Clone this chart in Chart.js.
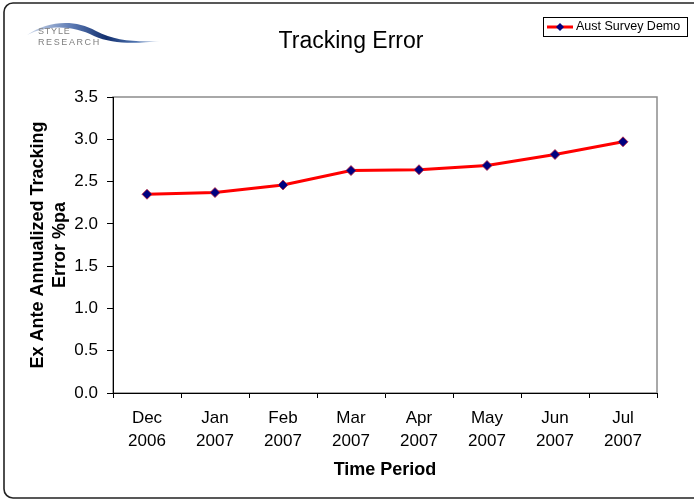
<!DOCTYPE html>
<html>
<head>
<meta charset="utf-8">
<script src="https://cdn.jsdelivr.net/npm/chart.js"></script>
<style>
  html, body { margin: 0; padding: 0; background: #ffffff; }
  #wrap { width: 694px; height: 499px; position: relative; }
</style>
</head>
<body>
<div id="wrap"><canvas id="chart" width="694" height="499"></canvas></div>
<script>
// Chart data
const months = ['Dec', 'Jan', 'Feb', 'Mar', 'Apr', 'May', 'Jun', 'Jul'];
const years = ['2006', '2007', '2007', '2007', '2007', '2007', '2007', '2007'];
const trackingError = [2.35, 2.37, 2.46, 2.63, 2.64, 2.69, 2.82, 2.97];
const seriesName = 'Aust Survey Demo';
const chartTitle = 'Tracking Error';
const yTitle = ['Ex Ante Annualized Tracking', 'Error %pa'];
const xTitle = 'Time Period';

const fontFamily = '"Liberation Sans", Arial, sans-serif';
const labels = months.map((m, i) => [m, years[i]]);

// Draws the frame, logo, title and legend around the plot
const decorations = {
    id: 'decorations',
    beforeDraw(chart) {
        const ctx = chart.ctx;
        const area = chart.chartArea;
        ctx.save();
        ctx.fillStyle = '#ffffff';
        ctx.fillRect(0, 0, chart.width, chart.height);
        // grey plot-area border (left/bottom get covered by axes)
        ctx.strokeStyle = '#8c8c8c';
        ctx.lineWidth = 1.5;
        ctx.strokeRect(area.left, area.top, area.right - area.left, area.bottom - area.top);
        ctx.restore();
    },
    afterDraw(chart) {
        const ctx = chart.ctx;
        ctx.save();

        // outer rounded frame
        ctx.strokeStyle = '#222222';
        ctx.lineWidth = 1.6;
        ctx.beginPath();
        ctx.roundRect(4, 3, 720, 495, 9);
        ctx.stroke();

        // logo swoosh
        const grad = ctx.createLinearGradient(26, 0, 160, 0);
        grad.addColorStop(0, '#d4deee');
        grad.addColorStop(0.35, '#5a78b2');
        grad.addColorStop(0.6, '#13306f');
        grad.addColorStop(0.82, '#4f74b0');
        grad.addColorStop(1, '#e3eaf5');
        ctx.fillStyle = grad;
        ctx.beginPath();
        ctx.moveTo(27, 35);
        ctx.bezierCurveTo(48, 21, 74, 19, 96, 31);
        ctx.bezierCurveTo(115, 41, 135, 42, 160, 41);
        ctx.bezierCurveTo(135, 44, 112, 44, 94, 36);
        ctx.bezierCurveTo(74, 26, 50, 24, 27, 35);
        ctx.closePath();
        ctx.fill();

        // logo text
        ctx.fillStyle = '#7f7f7f';
        ctx.font = '9px ' + fontFamily;
        ctx.textBaseline = 'middle';
        ctx.textAlign = 'left';
        const spaced = (txt, x, y, gap) => {
            for (const ch of txt) {
                ctx.fillText(ch, x, y);
                x += ctx.measureText(ch).width + gap;
            }
        };
        spaced('STYLE', 38, 32, 0.8);
        spaced('RESEARCH', 38, 43, 1.6);

        // chart title
        ctx.fillStyle = '#000000';
        ctx.font = '23px ' + fontFamily;
        ctx.textAlign = 'center';
        ctx.textBaseline = 'alphabetic';
        ctx.fillText(chartTitle, 351, 48);

        // legend
        ctx.lineWidth = 1;
        ctx.strokeStyle = '#000000';
        ctx.strokeRect(543.5, 17.5, 144, 19);
        ctx.strokeStyle = '#ff0000';
        ctx.lineWidth = 3;
        ctx.beginPath();
        ctx.moveTo(547, 27);
        ctx.lineTo(573, 27);
        ctx.stroke();
        ctx.fillStyle = '#000080';
        ctx.beginPath();
        ctx.moveTo(560, 23);
        ctx.lineTo(564, 27);
        ctx.lineTo(560, 31);
        ctx.lineTo(556, 27);
        ctx.closePath();
        ctx.fill();
        ctx.fillStyle = '#000000';
        ctx.font = '12.5px ' + fontFamily;
        ctx.textAlign = 'left';
        ctx.textBaseline = 'middle';
        ctx.fillText(seriesName, 576, 27);

        ctx.restore();
    }
};

const chart = new Chart(document.getElementById('chart'), {
    type: 'line',
    data: {
        labels: labels,
        datasets: [{
            label: seriesName,
            data: trackingError,
            borderColor: '#ff0000',
            borderWidth: 3,
            tension: 0,
            pointStyle: 'rectRot',
            pointRadius: 5,
            pointBackgroundColor: '#000080',
            pointBorderColor: '#c0203a',
            pointBorderWidth: 0.8,
            fill: false
        }]
    },
    options: {
        responsive: false,
        animation: false,
        layout: { padding: { top: 97, right: 37, left: 0, bottom: 0 } },
        plugins: {
            legend: { display: false },
            title: { display: false },
            tooltip: { enabled: false }
        },
        scales: {
            x: {
                type: 'category',
                offset: true,
                afterFit: (scale) => { scale.height = 106; },
                grid: {
                    offset: true,
                    drawOnChartArea: false,
                    drawTicks: true,
                    tickLength: 5,
                    color: '#000000'
                },
                border: { display: true, color: '#000000', width: 1 },
                ticks: {
                    color: '#000000',
                    padding: 8.5,
                    maxRotation: 0,
                    autoSkip: false,
                    font: { family: fontFamily, size: 17, lineHeight: 23 / 17 }
                },
                title: {
                    display: true,
                    text: xTitle,
                    color: '#000000',
                    padding: { top: 0, bottom: 18 },
                    font: { family: fontFamily, size: 18, weight: 'bold', lineHeight: 1.2 }
                }
            },
            y: {
                min: 0,
                max: 3.5,
                afterFit: (scale) => { scale.width = 113; },
                grid: {
                    drawOnChartArea: false,
                    drawTicks: true,
                    tickLength: 6,
                    color: '#000000'
                },
                border: { display: true, color: '#000000', width: 1 },
                ticks: {
                    stepSize: 0.5,
                    color: '#000000',
                    padding: 9,
                    font: { family: fontFamily, size: 17 },
                    callback: (v) => Number(v).toFixed(1)
                },
                title: {
                    display: true,
                    text: yTitle,
                    color: '#000000',
                    padding: { top: 27, bottom: 0 },
                    font: { family: fontFamily, size: 18, weight: 'bold', lineHeight: 22 / 18 }
                }
            }
        }
    },
    plugins: [decorations]
});
</script>
</body>
</html>
